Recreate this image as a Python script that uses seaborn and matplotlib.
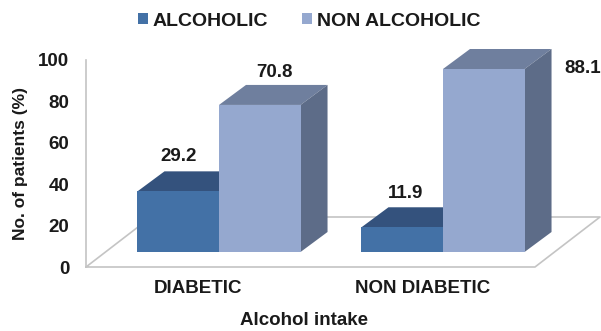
import matplotlib
matplotlib.use("Agg")
import matplotlib.pyplot as plt
from matplotlib.patches import Polygon, Patch
import pandas as pd
import seaborn as sns

categories = ["DIABETIC", "NON DIABETIC"]
alcoholic = [29.2, 11.9]
non_alcoholic = [70.8, 88.1]
series_names = ["ALCOHOLIC", "NON ALCOHOLIC"]
y_ticks = [0, 20, 40, 60, 80, 100]

front_colors = ["#4371A6", "#95A8CF"]
top_colors = ["#34527D", "#6F7F9E"]
side_colors = ["#2C4668", "#5D6C88"]
floor_color = "#C4C4C4"

W, H = 601, 331
sns.set_theme(style="white")
plt.rcParams["font.family"] = ["Liberation Sans", "DejaVu Sans"]
plt.rcParams["font.weight"] = "bold"
plt.rcParams["text.color"] = "#1a1a1a"

frame = pd.DataFrame({
    "group": categories * 2,
    "series": [series_names[0]] * 2 + [series_names[1]] * 2,
    "value": alcoholic + non_alcoholic,
})

fig = plt.figure(figsize=(W / 100, H / 100), dpi=100, facecolor="white")
rect = [86 / W, 1 - 267 / H, (535 - 86) / W, (267 - 60) / H]

# Back axes: the value scale and the category labels on the front floor edge
wall = fig.add_axes(rect)
wall.set_xlim(-0.5, 1.5)
wall.set_ylim(0, 100)
wall.set_xticks([0, 1], categories)
wall.set_yticks(y_ticks)
wall.tick_params(axis="x", length=0, pad=9.5, labelsize=13.5, colors="#1a1a1a")
wall.tick_params(axis="y", length=0, pad=12, labelsize=13.5, colors="#1a1a1a")
wall.set_xlabel("Alcohol intake", fontsize=13.5, fontweight="bold", labelpad=10.5,
                color="#1a1a1a", x=(304 - 86) / (535 - 86))
wall.set_ylabel("No. of patients (%)", fontsize=12.5, fontweight="bold", labelpad=7, color="#1a1a1a")
sns.despine(ax=wall, top=True, right=True, bottom=True, left=False)
wall.spines["left"].set_color(floor_color)
wall.spines["left"].set_linewidth(1.2)

# Floor outline receding to the back right
depth_x = 65 / (535 - 86) * 2
depth_y = 50 / (267 - 60) * 100
wall.plot([-0.5, 1.5, 1.5 + depth_x, -0.5 + depth_x, -0.5],
          [0, 0, depth_y, depth_y, 0],
          color=floor_color, lw=1.2, clip_on=False, zorder=1)

# Front axes: bars stand further forward, with their own baseline
bars = fig.add_axes(rect)
bars.patch.set_alpha(0)
sns.barplot(data=frame, x="group", y="value", hue="series", order=categories,
            hue_order=series_names, palette=front_colors, saturation=1,
            width=0.728, gap=0, legend=False, linewidth=0, ax=bars)
px_per_unit = 183 / 88.1
px_per_x = 224.0
bars.set_xlim((86 - 219) / px_per_x, (535 - 219) / px_per_x)
bars.set_ylim(-15 / px_per_unit, 192 / px_per_unit)
bars.axis("off")

# Extruded top and side faces built from each bar's own rectangle
dx = 27 / px_per_x
dy = 20 / px_per_unit
for k, container in enumerate(bars.containers):
    for patch in container:
        x0, x1 = patch.get_x(), patch.get_x() + patch.get_width()
        h = patch.get_height()
        bars.add_patch(Polygon([(x0, h), (x1, h), (x1 + dx, h + dy), (x0 + dx, h + dy)],
                               facecolor=top_colors[k], edgecolor="none", zorder=0.5, clip_on=False))
        bars.add_patch(Polygon([(x1, 0), (x1 + dx, dy), (x1 + dx, h + dy), (x1, h)],
                               facecolor=side_colors[k], edgecolor="none", zorder=0.5, clip_on=False))

# Value labels, offset in pixels from the top centre of their bar
label_offsets = [[(0, 26), (15, 24)], [(3, 25), (99, -8)]]
for k, container in enumerate(bars.containers):
    for j, patch in enumerate(container):
        off = label_offsets[j][k]
        bars.annotate(f"{patch.get_height():.1f}",
                      xy=(patch.get_x() + patch.get_width() / 2, patch.get_height()),
                      xytext=(off[0] * 0.72, off[1] * 0.72), textcoords="offset points",
                      ha="center", va="bottom", fontsize=13.5, fontweight="bold",
                      annotation_clip=False)

handles = [Patch(facecolor=c, edgecolor="none") for c in front_colors]
fig.legend(handles, series_names, ncol=2, loc="center", bbox_to_anchor=(309 / W, 1 - 21 / H),
           frameon=False, fontsize=14, handlelength=0.5, handleheight=0.5,
           handletextpad=0.25, columnspacing=1.75, borderpad=0, borderaxespad=0)

fig.savefig("out.png", dpi=100)
